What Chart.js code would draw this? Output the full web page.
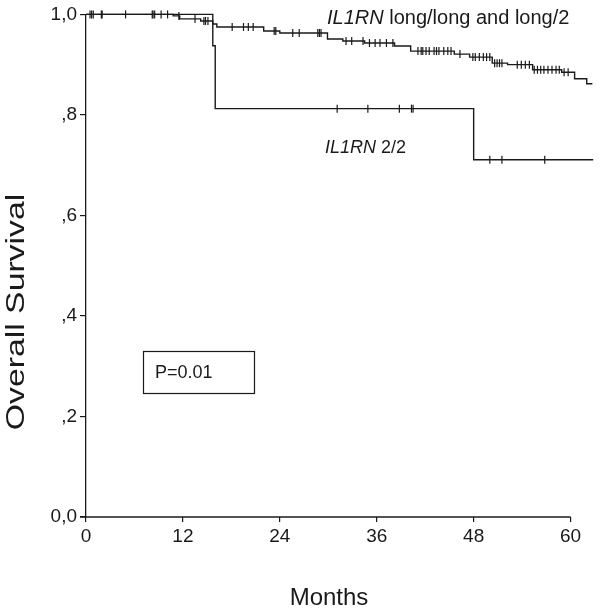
<!DOCTYPE html>
<html>
<head>
<meta charset="utf-8">
<script src="https://cdn.jsdelivr.net/npm/chart.js@4.4.1/dist/chart.umd.min.js"></script>
<style>
  html, body { margin: 0; padding: 0; background: #fff; }
  #wrap { width: 600px; height: 614px; position: relative; }
</style>
</head>
<body>
<div id="wrap"><canvas id="c" width="600" height="614"></canvas></div>
<script>
// ---- data ----
const xTicks = [0, 12, 24, 36, 48, 60];
const yTicks = [0, 0.2, 0.4, 0.6, 0.8, 1.0];
const yTickLabels = ['0,0', ',2', ',4', ',6', ',8', '1,0'];

// IL1RN long/long and long/2 : step times (months) and survival after each step
const longTimes = [0, 10.8, 11.6, 14.2, 15.7, 16.2, 22.0, 24.0, 29.9, 31.8, 34.5, 38.2, 40.2, 45.6, 47.5, 50.3, 52.2, 55.3, 58.9, 60.5, 62.0, 62.7];
const longSurv  = [1.0, 0.997, 0.991, 0.987, 0.981, 0.975, 0.967, 0.963, 0.951, 0.947, 0.943, 0.937, 0.927, 0.921, 0.915, 0.903, 0.900, 0.890, 0.885, 0.872, 0.862, 0.862];
const longCensor = [0.5, 0.7, 0.9, 1.9, 2.0, 4.9, 8.2, 8.3, 8.5, 9.3, 10.1,
  11.5, 13.5, 14.6, 14.8, 15.1, 18.1, 19.5, 20.1, 20.7, 23.3, 23.5, 25.6, 26.4,
  28.7, 28.9, 29.1, 32.2, 32.9, 34.3, 35.1, 35.8, 36.4, 37.2, 38.0,
  41.1, 41.5, 41.7, 42.1, 42.5, 43.1, 43.4, 43.7, 44.3, 44.8, 45.2, 46.3,
  47.9, 48.2, 48.7, 49.2, 49.6, 50.0, 50.6, 50.9, 51.2, 51.5,
  53.4, 53.9, 54.4, 54.9, 55.5, 55.9, 56.3, 56.7, 57.2, 57.7, 58.2, 58.6, 59.2, 59.7];

// IL1RN 2/2
const shortTimes = [0, 15.7, 16.0, 48.0, 62.8];
const shortSurv  = [1.0, 0.9375, 0.8125, 0.7109, 0.7109];
const shortCensor = [31.1, 34.9, 38.8, 40.3, 40.5, 50.0, 51.5, 56.8];

const FONT = "'Liberation Sans', Arial, sans-serif";
const INK = '#1a1a1a';

function steps(times, surv) { return times.map((t, i) => ({ x: t, y: surv[i] })); }
function survAt(times, surv, t) {
  let v = surv[0];
  for (let i = 0; i < times.length; i++) if (times[i] <= t) v = surv[i];
  return v;
}
function censors(times, surv, cs) { return cs.map(t => ({ x: t, y: survAt(times, surv, t) })); }

const lineDs = (data) => ({
  type: 'scatter', data, showLine: true, stepped: 'before',
  borderColor: INK, borderWidth: 1.4, pointRadius: 0, fill: false, clip: false
});
const censorDs = (data) => ({
  type: 'scatter', data, showLine: false, pointStyle: 'line', rotation: 90,
  pointRadius: 4, pointHoverRadius: 4, borderColor: INK, pointBorderColor: INK, pointBorderWidth: 1.2, clip: false
});

const extras = {
  id: 'extras',
  afterDraw(chart) {
    const ctx = chart.ctx;
    const xs = chart.scales.x, ys = chart.scales.y;
    ctx.save();
    // x axis line from 0 to 60
    ctx.strokeStyle = INK; ctx.lineWidth = 1.3;
    ctx.beginPath();
    ctx.moveTo(xs.getPixelForValue(0) - 6, ys.getPixelForValue(0));
    ctx.lineTo(xs.getPixelForValue(xTicks[xTicks.length - 1]), ys.getPixelForValue(0));
    ctx.stroke();
    ctx.fillStyle = INK;
    // axis titles
    ctx.font = '24px ' + FONT;
    ctx.textAlign = 'center'; ctx.textBaseline = 'alphabetic';
    ctx.fillText('Months', 329, 605);
    ctx.save();
    ctx.font = '25px ' + FONT;
    ctx.translate(24, 312); ctx.rotate(-Math.PI / 2); ctx.scale(1.35, 1);
    ctx.fillText('Overall Survival', 0, 0);
    ctx.restore();
    // curve labels
    ctx.textAlign = 'left';
    function mixed(x, y, size, parts) {
      let cx = x;
      for (const [txt, it] of parts) {
        ctx.font = (it ? 'italic ' : '') + size + 'px ' + FONT;
        ctx.fillText(txt, cx, y);
        cx += ctx.measureText(txt).width;
      }
    }
    mixed(327, 24, 20, [['IL1RN', true], [' long/long and long/2', false]]);
    mixed(325, 153, 18, [['IL1RN', true], [' 2/2', false]]);
    // P value box
    ctx.lineWidth = 1.2;
    ctx.strokeRect(143.5, 351.5, 111, 42);
    ctx.font = '18px ' + FONT;
    ctx.fillText('P=0.01', 155, 378);
    ctx.restore();
  }
};

new Chart(document.getElementById('c'), {
  type: 'scatter',
  data: {
    datasets: [
      lineDs(steps(longTimes, longSurv)),
      lineDs(steps(shortTimes, shortSurv)),
      censorDs(censors(longTimes, longSurv, longCensor)),
      censorDs(censors(shortTimes, shortSurv, shortCensor))
    ]
  },
  options: {
    responsive: false, animation: false, events: [],
    layout: { padding: { top: 14, right: 5, left: 0, bottom: 0 } },
    plugins: { legend: { display: false }, tooltip: { enabled: false } },
    scales: {
      x: {
        type: 'linear', min: 0, max: 63,
        afterBuildTicks: (s) => { s.ticks = xTicks.map(v => ({ value: v })); },
        afterFit: (s) => { s.height = 97; },
        border: { display: false },
        grid: { drawOnChartArea: false, drawTicks: true, tickLength: 5, color: INK, lineWidth: 1.2 },
        ticks: { color: INK, font: { family: FONT, size: 19 }, padding: 3, maxRotation: 0,
                 callback: (v) => String(v) }
      },
      y: {
        type: 'linear', min: 0, max: 1,
        afterBuildTicks: (s) => { s.ticks = yTicks.map(v => ({ value: v })); },
        afterFit: (s) => { s.width = 86; },
        border: { display: true, color: INK, width: 1.3 },
        grid: { drawOnChartArea: false, drawTicks: true, tickLength: 6, color: INK, lineWidth: 1.2 },
        ticks: { color: INK, font: { family: FONT, size: 19 }, padding: 3,
                 callback: (v) => { const i = yTicks.findIndex(t => Math.abs(t - v) < 1e-6); return i >= 0 ? yTickLabels[i] : ''; } }
      }
    }
  },
  plugins: [extras]
});
</script>
</body>
</html>
